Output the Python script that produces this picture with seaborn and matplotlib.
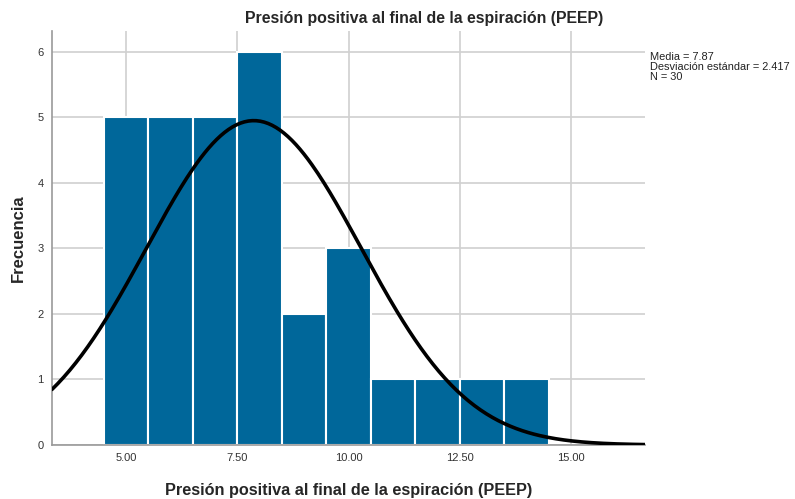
import numpy as np
import pandas as pd
import seaborn as sns
import matplotlib
matplotlib.use("Agg")
import matplotlib.pyplot as plt

centros = [5, 6, 7, 8, 9, 10, 11, 12, 13, 14]
frecuencias = [5, 5, 5, 6, 2, 3, 1, 1, 1, 1]
media = 7.87
desv = 2.417
n = 30
xticks = [5.0, 7.5, 10.0, 12.5, 15.0]
yticks = [0, 1, 2, 3, 4, 5, 6]

sns.set_theme(style="white")
plt.rcParams['font.family'] = ['Liberation Sans', 'DejaVu Sans']

fig = plt.figure(figsize=(7.95, 4.99), dpi=100)
ax = fig.add_axes([0.0654, 0.1082, 0.746, 0.8297])

df = pd.DataFrame({"peep": centros, "frec": frecuencias})
sns.histplot(data=df, x="peep", weights="frec", binwidth=1,
             binrange=(min(centros) - 0.5, max(centros) + 0.5), ax=ax,
             color="#00679a", alpha=1, edgecolor="white", linewidth=1.5, zorder=2)

# curva normal escalada a la frecuencia
xs = np.linspace(3.33, 16.67, 300)
ys = n * 1.0 / (desv * np.sqrt(2 * np.pi)) * np.exp(-0.5 * ((xs - media) / desv) ** 2)
sns.lineplot(x=xs, y=ys, ax=ax, color="black", linewidth=2.6, zorder=3)

ax.set_xlim(3.33, 16.67)
ax.set_ylim(0, 6.32)
ax.set_xticks(xticks)
ax.set_xticklabels([f"{t:.2f}" for t in xticks])
ax.set_yticks(yticks)
ax.tick_params(axis="both", labelsize=8, colors="#333333", length=0, pad=6)
ax.grid(True, color="#d0d0d0", linewidth=1.2, zorder=0)
ax.set_axisbelow(True)
for s in ["top", "right"]:
    ax.spines[s].set_visible(False)
for s in ["left", "bottom"]:
    ax.spines[s].set_color("#999999")
    ax.spines[s].set_linewidth(1.2)

fig.text(424 / 795, 1 - 18 / 499, "Presión positiva al final de la espiración (PEEP)",
         fontsize=11.4, fontweight="bold", ha="center", va="center")
ax.set_xlabel("Presión positiva al final de la espiración (PEEP)", fontsize=11.7,
              fontweight="bold", labelpad=14)
ax.set_ylabel("Frecuencia", fontsize=12, fontweight="bold", labelpad=8)

fig.text(650 / 795, 1 - 52 / 499,
         f"Media = {media:.2f}\nDesviación estándar = {desv:.3f}\nN = {n}",
         fontsize=7.9, va="top", ha="left", linespacing=1.02, color="#222222")

fig.savefig("out.png", dpi=100)
